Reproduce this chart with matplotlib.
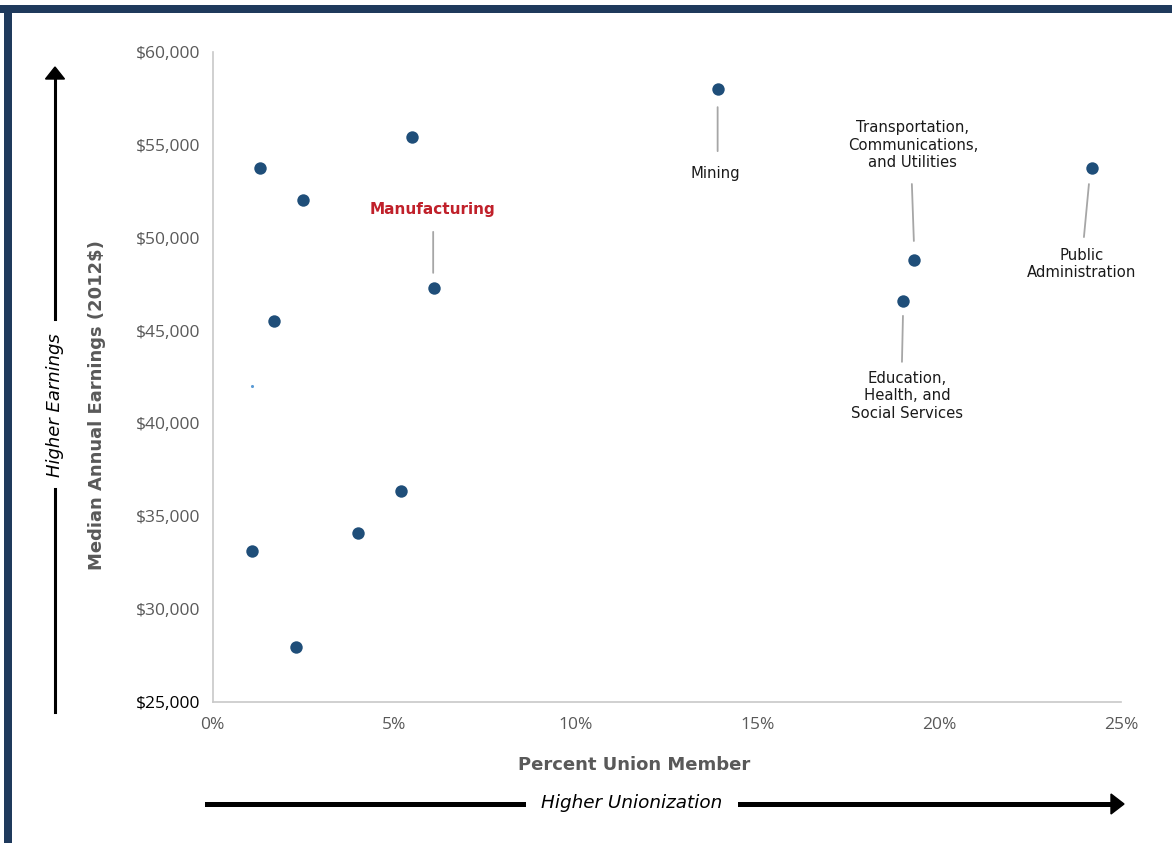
import matplotlib
matplotlib.use("Agg")
import matplotlib.pyplot as plt
from matplotlib.lines import Line2D
from matplotlib.patches import Polygon, Rectangle
from matplotlib.transforms import offset_copy
from matplotlib.ticker import FuncFormatter

# union membership (%) and median annual earnings (2012$) by industry
union_pct = [1.3, 2.5, 5.5, 6.1, 1.7, 5.2, 4.0, 1.1, 2.3, 13.9, 19.3, 19.0, 24.2]
earnings = [53750, 52050, 55400, 47300, 45500, 36350, 34100, 33150, 27950,
            58000, 48800, 46600, 53750]
# one point drawn as a tiny marker in the original
tiny_x = [1.1]
tiny_y = [42000]

labels = ["Manufacturing", "Mining", "Transportation,\nCommunications,\nand Utilities",
          "Education,\nHealth, and\nSocial Services", "Public\nAdministration"]
label_idx = [3, 9, 10, 11, 12]
# pixel offsets: text centre, leader line start, leader line end (relative to point)
text_off = [(-2, 78), (-2, -84), (-1, 115), (4, -95), (-10, -96)]
line_off = [((-1, 15), (-1, 56)), ((0, -18), (0, -62)), ((0, 19), (-2, 76)),
            ((0, -15), (-1, -61)), ((-3, -16), (-8, -69))]
label_colors = ["#C0202A", "#1a1a1a", "#1a1a1a", "#1a1a1a", "#1a1a1a"]

x_ticks = [0, 5, 10, 15, 20, 25]
y_ticks = [25000, 30000, 35000, 40000, 45000, 50000, 55000, 60000]

W, H = 1172, 843
navy = "#1F3A5C"
dot = "#1F4E79"
grey_txt = "#595959"

fig = plt.figure(figsize=(W / 100, H / 100), dpi=100)
fig.patch.set_facecolor("white")


def fx(px):
    return px / W


def fy(py):
    return 1 - py / H


ax = fig.add_axes([fx(212.5), fy(702), fx(1121) - fx(212.5), fy(52) - fy(702)])
ax.set_xlim(0, 25)
ax.set_ylim(25000, 60000)
ax.set_xticks(x_ticks)
ax.set_yticks(y_ticks)
ax.xaxis.set_major_formatter(FuncFormatter(lambda v, p: f"{v:.0f}%"))
ax.yaxis.set_major_formatter(FuncFormatter(lambda v, p: f"${v:,.0f}"))
for s in ["top", "right"]:
    ax.spines[s].set_visible(False)
for s in ["left", "bottom"]:
    ax.spines[s].set_color("#C8C8C8")
    ax.spines[s].set_linewidth(1.2)
ax.tick_params(axis="x", length=0, pad=11, labelsize=12.5, labelcolor=grey_txt)
ax.tick_params(axis="y", length=0, pad=9, labelsize=12.5, labelcolor=grey_txt)
for t in ax.get_xticklabels() + ax.get_yticklabels():
    t.set_fontfamily("Open Sans")
ax.get_yticklabels()[0].set_color("black")

ax.scatter(union_pct, earnings, s=80, color=dot, zorder=3, linewidths=0)
ax.scatter(tiny_x, tiny_y, s=5, color="#5B9BD5", zorder=3, linewidths=0)

for lab, i, toff, (l0, l1), c in zip(labels, label_idx, text_off, line_off, label_colors):
    x, y = union_pct[i], earnings[i]
    bold = lab == "Manufacturing"
    ax.annotate(lab, xy=(x, y), xytext=toff, textcoords="offset pixels",
                ha="center", va="center", fontsize=11 if bold else 10.7,
                fontweight="bold" if bold else "normal", color=c,
                linespacing=1.22)
    t0 = offset_copy(ax.transData, fig=fig, x=l0[0], y=l0[1], units="dots")
    t1 = offset_copy(ax.transData, fig=fig, x=l1[0], y=l1[1], units="dots")
    ax.annotate("", xy=(x, y), xycoords=t1, xytext=(x, y), textcoords=t0,
                arrowprops=dict(arrowstyle="-", color="#A6A6A6", lw=1.3,
                                shrinkA=0, shrinkB=0))

# axis titles
fig.text(fx(634), fy(765), "Percent Union Member", ha="center", va="center",
         fontsize=13, fontweight="bold", color=grey_txt)
fig.text(fx(97), fy(405), "Median Annual Earnings (2012$)", ha="center", va="center",
         rotation=90, fontsize=13, fontweight="bold", color=grey_txt)

# direction arrows
fig.add_artist(Line2D([fx(55), fx(55)], [fy(712), fy(489)], color="black", lw=2.2))
fig.add_artist(Line2D([fx(55), fx(55)], [fy(319), fy(78)], color="black", lw=2.2))
fig.add_artist(Polygon([[fx(45.5), fy(79)], [fx(64.5), fy(79)], [fx(55), fy(67)]],
                       closed=True, color="black"))
fig.text(fx(55), fy(405), "Higher Earnings", ha="center", va="center", rotation=90,
         fontsize=13, fontstyle="italic", color="black")

fig.add_artist(Line2D([fx(207), fx(523)], [fy(804), fy(804)], color="black", lw=3.6))
fig.add_artist(Line2D([fx(740), fx(1112)], [fy(804), fy(804)], color="black", lw=3.6))
fig.add_artist(Polygon([[fx(1111), fy(794)], [fx(1111), fy(814)], [fx(1124), fy(804)]],
                       closed=True, color="black"))
fig.text(fx(632), fy(803), "Higher Unionization", ha="center", va="center",
         fontsize=13.2, fontstyle="italic", color="black")

# navy frame (top and left)
fig.add_artist(Rectangle((0, fy(13)), 1, fy(5) - fy(13), transform=fig.transFigure,
                         color=navy, lw=0))
fig.add_artist(Rectangle((fx(4), 0), fx(12) - fx(4), fy(5), transform=fig.transFigure,
                         color=navy, lw=0))

fig.savefig("out.png", dpi=100)
